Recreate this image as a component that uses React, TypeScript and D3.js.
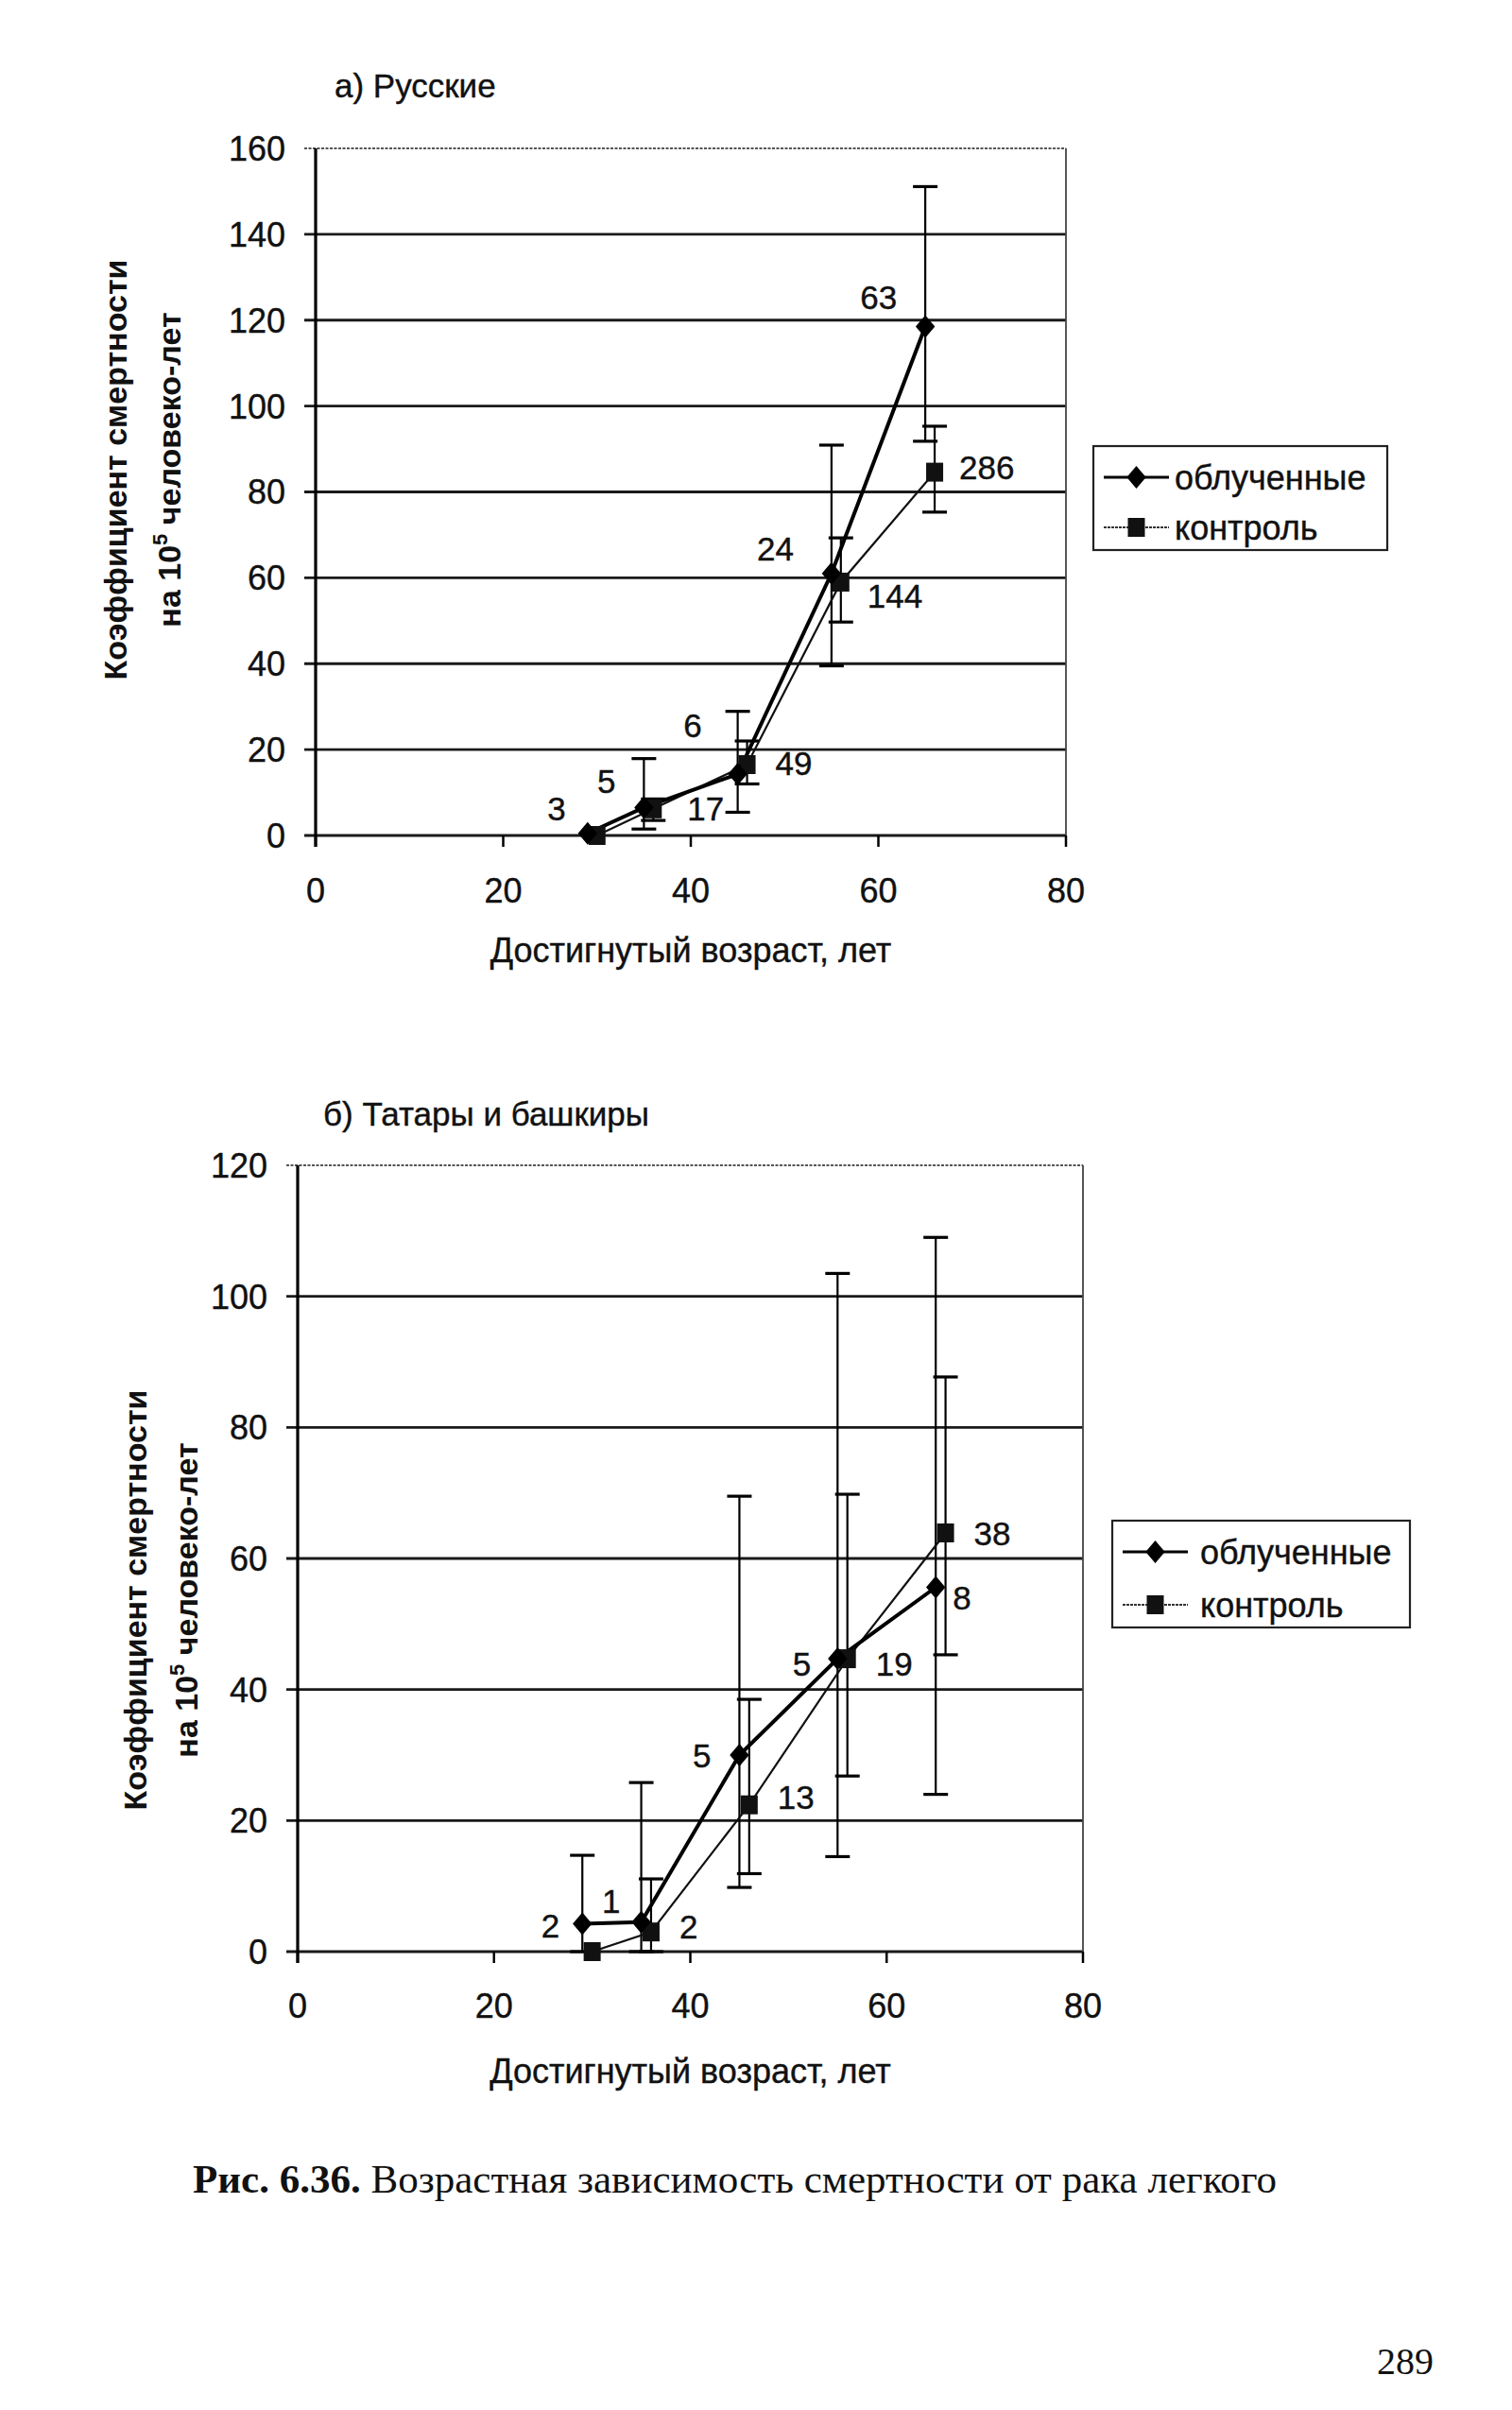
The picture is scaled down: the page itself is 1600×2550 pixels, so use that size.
import React from 'react';
import * as d3 from 'd3';

// ── Data ──
const X_TICKS = [0, 20, 40, 60, 80];
const AGES_IRR = [29, 35, 45, 55, 65];
const AGES_CTRL = [30, 36, 46, 56, 66];
const SERIES_NAMES = ['облученные', 'контроль'];

// а) Русские
const RU_IRR = [0.5, 6.5, 14.3, 61, 118.5];
const RU_IRR_LO = [null, 1.5, 5.4, 39.5, 91.8];
const RU_IRR_HI = [null, 17.9, 28.9, 90.9, 151.1];
const RU_IRR_N = ['3', '5', '6', '24', '63'];
const RU_CTRL = [0, 6.2, 16.5, 59, 84.6];
const RU_CTRL_LO = [null, 3.5, 12, 49.7, 75.3];
const RU_CTRL_HI = [null, 8.5, 22, 69.3, 95.3];
const RU_CTRL_N = [null, '17', '49', '144', '286'];

// б) Татары и башкиры
const TB_IRR = [4.25, 4.5, 30, 44.7, 55.6];
const TB_IRR_LO = [0, 0, 9.8, 14.5, 24];
const TB_IRR_HI = [14.7, 25.8, 69.5, 103.5, 109];
const TB_IRR_N = ['2', '1', '5', '5', '8'];
const TB_CTRL = [0, 3, 22.4, 44.7, 63.9];
const TB_CTRL_LO = [null, 0, 11.9, 26.8, 45.3];
const TB_CTRL_HI = [null, 11.1, 38.5, 69.8, 87.7];
const TB_CTRL_N = [null, '2', '13', '19', '38'];

// ── Layout (pixels) ──
const SANS = '"Liberation Sans", Arial, sans-serif';
const SERIF = '"Liberation Serif", "Times New Roman", serif';
const INK = '#111';
const TXT = { fill: INK, stroke: INK, strokeWidth: 0.4 };

// label offsets relative to the marker [dx, dy, anchor]
const RU_IRR_LBL: [number, number, string][] = [[-23, -26, 'end'], [-30, -28, 'end'], [-38, -52, 'end'], [-40, -26, 'end'], [-30, -31, 'end']];
const RU_CTRL_LBL: [number, number, string][] = [[0, 0, 'start'], [36, 0, 'start'], [30, -2, 'start'], [28, 14, 'start'], [26, -5, 'start']];
const TB_IRR_LBL: [number, number, string][] = [[-24, 2, 'end'], [-22, -22, 'end'], [-30, 0, 'end'], [-28, 5, 'end'], [18, 11, 'start']];
const TB_CTRL_LBL: [number, number, string][] = [[0, 0, 'start'], [30, -6, 'start'], [30, -8, 'start'], [30, 5, 'start'], [30, 0, 'start']];

interface Series {
  ages: number[];
  vals: number[];
  lo: (number | null)[];
  hi: (number | null)[];
  n: (string | null)[];
  lbl: [number, number, string][];
}

interface Layout {
  left: number; right: number; top: number; bottom: number; yMax: number;
  title: string; titleX: number; titleY: number;
  yTitleX1: number; yTitleX2: number; yTitleY: number;
  xTitleY: number; xTickY: number;
  lg: { x: number; y: number; w: number; h: number; row1: number; row2: number; lineX1: number; lineX2: number; textX: number };
}

const diamond = (x: number, y: number, r: number) => `M${x},${y - r}L${x + r * 0.85},${y}L${x},${y + r}L${x - r * 0.85},${y}Z`;

function Chart({ L, irr, ctrl }: { L: Layout; irr: Series; ctrl: Series }) {
  const x = d3.scaleLinear().domain([0, 80]).range([L.left, L.right]);
  const y = d3.scaleLinear().domain([0, L.yMax]).range([L.bottom, L.top]);
  const yTicks = d3.range(0, L.yMax + 1, 20);
  const line = d3.line<[number, number]>().x(d => x(d[0])).y(d => y(d[1]));
  const cap = 13;

  const errBars = (s: Series, key: string) => s.ages.map((a, i) => {
    const lo = s.lo[i], hi = s.hi[i];
    if (lo == null || hi == null) return null;
    const cx = x(a);
    return (
      <g key={key + i} stroke="#000">
        <line x1={cx} x2={cx} y1={y(lo)} y2={y(hi)} strokeWidth={2.2} />
        <line x1={cx - cap} x2={cx + cap} y1={y(hi)} y2={y(hi)} strokeWidth={3.2} />
        <line x1={cx - cap} x2={cx + cap} y1={y(lo)} y2={y(lo)} strokeWidth={3.2} />
      </g>
    );
  });

  const labels = (s: Series, key: string) => s.ages.map((a, i) => {
    const t = s.n[i];
    if (!t) return null;
    const [dx, dy, anchor] = s.lbl[i];
    return (
      <text key={key + i} x={x(a) + dx} y={y(s.vals[i]) + dy} dy="0.36em" textAnchor={anchor as any}
        fontFamily={SANS} fontSize={35} {...TXT}>{t}</text>
    );
  });

  const lg = L.lg;
  const lgMid = (lg.lineX1 + lg.lineX2) / 2;

  return (
    <g>
      {/* title */}
      <text x={L.titleX} y={L.titleY} dy="0.36em" fontFamily={SANS} fontSize={35} {...TXT}>{L.title}</text>

      {/* grid */}
      {yTicks.filter(t => t < L.yMax).map(t => (
        <line key={'g' + t} x1={L.left - 12} x2={L.right} y1={y(t)} y2={y(t)} stroke="#1a1a1a" strokeWidth={2.8} />
      ))}
      <line x1={L.left - 12} x2={L.right} y1={y(L.yMax)} y2={y(L.yMax)} stroke="#555" strokeWidth={1.8} strokeDasharray="3,1.5" />
      <line x1={L.right} x2={L.right} y1={L.top} y2={L.bottom + 12} stroke="#444" strokeWidth={1.8} />
      <line x1={L.left} x2={L.left} y1={L.top} y2={L.bottom + 12} stroke="#000" strokeWidth={3.2} />
      {X_TICKS.map(t => (
        <line key={'xt' + t} x1={x(t)} x2={x(t)} y1={L.bottom} y2={L.bottom + 12} stroke="#000" strokeWidth={2.5} />
      ))}

      {/* tick labels */}
      {yTicks.map(t => (
        <text key={'yl' + t} x={L.left - 32} y={y(t)} dy="0.36em" textAnchor="end" fontFamily={SANS} fontSize={36} {...TXT}>{t}</text>
      ))}
      {X_TICKS.map(t => (
        <text key={'xl' + t} x={x(t)} y={L.xTickY} dy="0.36em" textAnchor="middle" fontFamily={SANS} fontSize={36} {...TXT}>{t}</text>
      ))}

      {/* axis titles */}
      <text x={(L.left + L.right) / 2} y={L.xTitleY} dy="0.36em" textAnchor="middle" fontFamily={SANS} fontSize={36} {...TXT}>
        Достигнутый возраст, лет
      </text>
      <g transform={`translate(${L.yTitleX1},${L.yTitleY}) rotate(-90)`}>
        <text dy="0.36em" textAnchor="middle" fontFamily={SANS} fontSize={34} fontWeight={700} fill={INK}>Коэффициент смертности</text>
      </g>
      <g transform={`translate(${L.yTitleX2},${L.yTitleY}) rotate(-90)`}>
        <text dy="0.36em" textAnchor="middle" fontFamily={SANS} fontSize={34} fontWeight={700} fill={INK}>
          на 10<tspan fontSize={22} dy="-14">5</tspan><tspan dy="14"> человеко-лет</tspan>
        </text>
      </g>

      {/* error bars */}
      {errBars(irr, 'ei')}
      {errBars(ctrl, 'ec')}

      {/* lines */}
      <path d={line(ctrl.ages.map((a, i) => [a, ctrl.vals[i]]))!} fill="none" stroke={INK} strokeWidth={2.2} />
      <path d={line(irr.ages.map((a, i) => [a, irr.vals[i]]))!} fill="none" stroke="#000" strokeWidth={4} />

      {/* markers */}
      {ctrl.ages.map((a, i) => (
        <rect key={'sq' + i} x={x(a) - 9} y={y(ctrl.vals[i]) - 10} width={18} height={20} fill={INK} />
      ))}
      {irr.ages.map((a, i) => (
        <path key={'dm' + i} d={diamond(x(a), y(irr.vals[i]), 12)} fill="#000" />
      ))}

      {labels(irr, 'li')}
      {labels(ctrl, 'lc')}

      {/* legend */}
      <rect x={lg.x} y={lg.y} width={lg.w} height={lg.h} fill="#fff" stroke="#222" strokeWidth={2.2} />
      <line x1={lg.lineX1} x2={lg.lineX2} y1={lg.row1} y2={lg.row1} stroke="#000" strokeWidth={3.2} />
      <path d={diamond(lgMid, lg.row1, 12)} fill="#000" />
      <text x={lg.textX} y={lg.row1} dy="0.36em" fontFamily={SANS} fontSize={36} {...TXT}>{SERIES_NAMES[0]}</text>
      <line x1={lg.lineX1} x2={lg.lineX2} y1={lg.row2} y2={lg.row2} stroke="#333" strokeWidth={2} strokeDasharray="3,1" />
      <rect x={lgMid - 9} y={lg.row2 - 10} width={18} height={20} fill={INK} />
      <text x={lg.textX} y={lg.row2} dy="0.36em" fontFamily={SANS} fontSize={36} {...TXT}>{SERIES_NAMES[1]}</text>
    </g>
  );
}

const LAYOUT_A: Layout = {
  left: 334, right: 1128, top: 157, bottom: 884, yMax: 160,
  title: 'а) Русские', titleX: 354, titleY: 90,
  yTitleX1: 122, yTitleX2: 179, yTitleY: 497,
  xTitleY: 1005, xTickY: 942,
  lg: { x: 1157, y: 472, w: 311, h: 110, row1: 505, row2: 558, lineX1: 1168, lineX2: 1237, textX: 1243 },
};

const LAYOUT_B: Layout = {
  left: 315, right: 1146, top: 1233, bottom: 2065, yMax: 120,
  title: 'б) Татары и башкиры', titleX: 342, titleY: 1178,
  yTitleX1: 143, yTitleX2: 197, yTitleY: 1693,
  xTitleY: 2191, xTickY: 2122,
  lg: { x: 1177, y: 1609, w: 315, h: 113, row1: 1642, row2: 1698, lineX1: 1188, lineX2: 1257, textX: 1270 },
};

export default function App() {
  const ruIrr: Series = { ages: AGES_IRR, vals: RU_IRR, lo: RU_IRR_LO, hi: RU_IRR_HI, n: RU_IRR_N, lbl: RU_IRR_LBL };
  const ruCtrl: Series = { ages: AGES_CTRL, vals: RU_CTRL, lo: RU_CTRL_LO, hi: RU_CTRL_HI, n: RU_CTRL_N, lbl: RU_CTRL_LBL };
  const tbIrr: Series = { ages: AGES_IRR, vals: TB_IRR, lo: TB_IRR_LO, hi: TB_IRR_HI, n: TB_IRR_N, lbl: TB_IRR_LBL };
  const tbCtrl: Series = { ages: AGES_CTRL, vals: TB_CTRL, lo: TB_CTRL_LO, hi: TB_CTRL_HI, n: TB_CTRL_N, lbl: TB_CTRL_LBL };

  return (
    <svg width={1600} height={2550} style={{ position: 'absolute', left: 0, top: 0, background: '#fff' }}>
      <rect width={1600} height={2550} fill="#fff" />
      <Chart L={LAYOUT_A} irr={ruIrr} ctrl={ruCtrl} />
      <Chart L={LAYOUT_B} irr={tbIrr} ctrl={tbCtrl} />

      <text x={204} y={2305} dy="0.36em" fontFamily={SERIF} fontSize={42} fill={INK} textLength={1147} lengthAdjust="spacingAndGlyphs">
        <tspan fontWeight={700}>Рис. 6.36.</tspan> Возрастная зависимость смертности от рака легкого
      </text>
      <text x={1487} y={2498} dy="0.36em" textAnchor="middle" fontFamily={SERIF} fontSize={40} fill={INK}>289</text>
    </svg>
  );
}
